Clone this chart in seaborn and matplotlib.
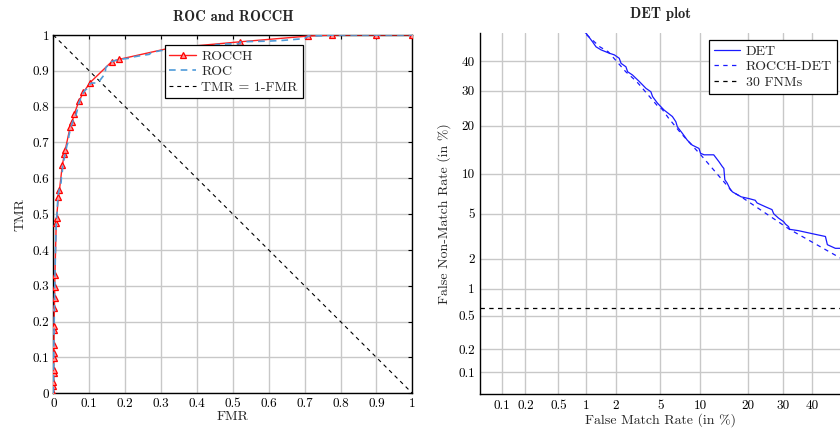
import numpy as np
import pandas as pd
import matplotlib
matplotlib.use("Agg")
import matplotlib.pyplot as plt
import seaborn as sns
from statistics import NormalDist

# ---------------- data ----------------
roc_fmr = [0.0, 0.0002, 0.0004, 0.0006, 0.0008, 0.001, 0.0012, 0.0015, 0.002, 0.0022,
           0.003, 0.0035, 0.004, 0.0045, 0.006, 0.008, 0.009, 0.0101, 0.0118, 0.0128,
           0.0144, 0.0174, 0.0195, 0.0217, 0.0226, 0.0251, 0.0260, 0.0288, 0.0332, 0.0379,
           0.0418, 0.0432, 0.0475, 0.0538, 0.0626, 0.0666, 0.0684, 0.0746, 0.0812, 0.0883,
           0.0985, 0.101, 0.107, 0.124, 0.134, 0.141, 0.144, 0.146, 0.151, 0.158,
           0.163, 0.183, 0.202, 0.219, 0.224, 0.247, 0.267, 0.272, 0.287, 0.303,
           0.309, 0.319, 0.322, 0.352, 0.397, 0.447, 0.454, 0.483, 0.500, 0.520, 0.520,
           0.600, 0.640, 0.700, 0.709, 0.750, 0.777, 1.0]
roc_tmr = [0.0, 0.019, 0.032, 0.056, 0.065, 0.099, 0.112, 0.135, 0.177, 0.188,
           0.239, 0.267, 0.298, 0.330, 0.400, 0.474, 0.488, 0.500, 0.531, 0.549,
           0.560, 0.572, 0.578, 0.590, 0.608, 0.620, 0.637, 0.648, 0.670, 0.692,
           0.703, 0.718, 0.738, 0.758, 0.776, 0.790, 0.803, 0.819, 0.835, 0.846,
           0.853, 0.863, 0.866, 0.866, 0.879, 0.888, 0.891, 0.909, 0.914, 0.923,
           0.926, 0.932, 0.934, 0.936, 0.939, 0.943, 0.946, 0.950, 0.954, 0.957,
           0.959, 0.961, 0.963, 0.964, 0.966, 0.968, 0.973, 0.975, 0.975, 0.976, 0.981,
           0.983, 0.985, 0.990, 0.997, 0.998, 1.0, 1.0]

# ROC convex hull vertices
rocch_fmr = [0.0, 0.0002, 0.0004, 0.0006, 0.0008, 0.001, 0.0012, 0.0015, 0.002, 0.0022,
             0.003, 0.0035, 0.004, 0.0045, 0.008, 0.009, 0.014, 0.017, 0.025, 0.031,
             0.033, 0.047, 0.052, 0.058, 0.072, 0.084, 0.102, 0.163, 0.183, 0.322,
             0.520, 0.709, 0.777, 0.900, 1.0]
rocch_tmr = [0.0, 0.019, 0.032, 0.056, 0.065, 0.099, 0.112, 0.135, 0.177, 0.188,
             0.239, 0.267, 0.298, 0.330, 0.474, 0.488, 0.549, 0.567, 0.637, 0.668,
             0.679, 0.744, 0.756, 0.779, 0.817, 0.840, 0.867, 0.926, 0.932, 0.963,
             0.981, 0.997, 1.0, 1.0, 1.0]

diag_fmr = [0.0, 1.0]
diag_tmr = [1.0, 0.0]

fnm30_rate_pct = 0.62   # 30 false non-matches, in %

roc_ticks = [0, 0.1, 0.2, 0.3, 0.4, 0.5, 0.6, 0.7, 0.8, 0.9, 1]
roc_tick_labels = ["0", "0.1", "0.2", "0.3", "0.4", "0.5", "0.6", "0.7", "0.8", "0.9", "1"]
det_x_ticks = [0.1, 0.2, 0.5, 1, 2, 5, 10, 20, 30, 40]
det_x_labels = ["0.1", "0.2", "0.5", "1", "2", "5", "10", "20", "30", "40"]
det_y_ticks = [0.1, 0.2, 0.5, 1, 2, 5, 10, 20, 30, 40]
det_y_labels = ["0.1", "0.2", "0.5", "1", "2", "5", "10", "20", "30", "40"]

# ---------------- style ----------------
sns.set_style("white")
plt.rcParams["font.family"] = ["cmr10", "DejaVu Serif"]
plt.rcParams["axes.formatter.use_mathtext"] = True
plt.rcParams["axes.unicode_minus"] = False

GRID = "#c8c8c8"
TICK_FS = 9.5
LABEL_FS = 10
LEG_FS = 10
TITLE_FS = 10.5

fig = plt.figure(figsize=(8.4, 4.29), dpi=100)
ax1 = fig.add_axes([0.0635, 0.0832, 0.4274, 0.8352])
ax2 = fig.add_axes([0.5718, 0.0809, 0.4282, 0.8415])

# ---------------- ROC panel ----------------
roc_df = pd.DataFrame({"FMR": roc_fmr, "TMR": roc_tmr})
hull_df = pd.DataFrame({"FMR": rocch_fmr, "TMR": rocch_tmr})
diag_df = pd.DataFrame({"FMR": diag_fmr, "TMR": diag_tmr})

sns.lineplot(data=diag_df, x="FMR", y="TMR", ax=ax1, sort=False, estimator=None,
             color="black", lw=0.8, linestyle=(0, (3.5, 3.5)), label="TMR = 1-FMR", zorder=2)
sns.lineplot(data=hull_df, x="FMR", y="TMR", ax=ax1, sort=False, estimator=None,
             color="#ff2020", lw=1.0, marker="^", markersize=5, mfc="#ff9a9a",
             mec="#ff0000", mew=0.9, label="ROCCH", zorder=3)
sns.lineplot(data=roc_df, x="FMR", y="TMR", ax=ax1, sort=False, estimator=None,
             color="#4f9bd9", lw=1.2, linestyle=(0, (4, 3)), label="ROC", zorder=4)

ax1.set_xlim(0, 1)
ax1.set_ylim(0, 1)
ax1.set_xticks(roc_ticks, roc_tick_labels)
ax1.set_yticks(roc_ticks, roc_tick_labels)
ax1.grid(True, color=GRID, lw=1.0)
ax1.set_axisbelow(True)
for s in ax1.spines.values():
    s.set_color("black")
    s.set_linewidth(1.0)
ax1.tick_params(direction="in", length=3, width=0.8, labelsize=TICK_FS, pad=3,
                top=True, right=True, colors="black")
ax1.set_xlabel("FMR", fontsize=LABEL_FS, labelpad=1)
ax1.set_ylabel("TMR", fontsize=LABEL_FS, labelpad=4)
ax1.set_title("ROC and ROCCH", fontsize=TITLE_FS, family=["cmb10", "DejaVu Serif"], pad=10)

h, l = ax1.get_legend_handles_labels()
order = [l.index("ROCCH"), l.index("ROC"), l.index("TMR = 1-FMR")]
leg1 = ax1.legend([h[i] for i in order], [l[i] for i in order],
                  loc="upper left", bbox_to_anchor=(0.31, 0.972), fontsize=LEG_FS,
                  frameon=True, fancybox=False, framealpha=1, edgecolor="black",
                  borderpad=0.35, labelspacing=0.2, handlelength=1.9, handletextpad=0.4,
                  borderaxespad=0)
leg1.get_frame().set_linewidth(0.9)

# ---------------- DET panel ----------------
nd = NormalDist()
_ppf = np.vectorize(lambda p: nd.inv_cdf(p), otypes=[float])
_cdf = np.vectorize(lambda z: nd.cdf(z), otypes=[float])


def probit_fwd(v):
    v = np.asarray(v, dtype=float)
    p = np.clip(v / 100.0, 1e-12, 1 - 1e-12)
    return _ppf(p)


def probit_inv(z):
    z = np.asarray(z, dtype=float)
    return _cdf(z) * 100.0


ax2.set_xscale("function", functions=(probit_fwd, probit_inv))
ax2.set_yscale("function", functions=(probit_fwd, probit_inv))

det_df = pd.DataFrame({"FMR": np.array(roc_fmr) * 100, "FNMR": (1 - np.array(roc_tmr)) * 100})
rdet_df = pd.DataFrame({"FMR": np.array(rocch_fmr) * 100, "FNMR": (1 - np.array(rocch_tmr)) * 100})
det_df = det_df[(det_df.FMR > 0.01) & (det_df.FNMR > 0.01)]
rdet_df = rdet_df[(rdet_df.FMR > 0.01) & (rdet_df.FNMR > 0.01)]

sns.lineplot(data=det_df, x="FMR", y="FNMR", ax=ax2, sort=False, estimator=None,
             color="#1a1aff", lw=0.9, label="DET", zorder=4)
sns.lineplot(data=rdet_df, x="FMR", y="FNMR", ax=ax2, sort=False, estimator=None,
             color="#1a1aff", lw=0.9, linestyle=(0, (3.5, 3.5)), label="ROCCH-DET", zorder=3)
ax2.axhline(fnm30_rate_pct, color="black", lw=0.9, linestyle=(0, (3.5, 3.5)),
            label="30 FNMs", zorder=3)

ax2.set_xlim(0.05, 50)
ax2.set_ylim(0.05, 50)
ax2.set_xticks(det_x_ticks, det_x_labels)
ax2.set_yticks(det_y_ticks, det_y_labels)
ax2.minorticks_off()
ax2.grid(True, color=GRID, lw=1.0)
ax2.set_axisbelow(True)
ax2.spines["top"].set_visible(False)
ax2.spines["right"].set_visible(False)
for s in ("left", "bottom"):
    ax2.spines[s].set_color("black")
    ax2.spines[s].set_linewidth(1.0)
ax2.tick_params(direction="in", length=0, labelsize=TICK_FS, pad=4, colors="black")
ax2.set_xlabel("False Match Rate (in %)", fontsize=LABEL_FS, labelpad=1)
ax2.set_ylabel("False Non-Match Rate (in %)", fontsize=LABEL_FS, labelpad=5)
ax2.set_title("DET plot", fontsize=TITLE_FS, family=["cmb10", "DejaVu Serif"], pad=11)

leg2 = ax2.legend(loc="upper left", bbox_to_anchor=(0.635, 0.981), fontsize=LEG_FS,
                  frameon=True, fancybox=False, framealpha=1, edgecolor="black",
                  borderpad=0.35, labelspacing=0.2, handlelength=1.9, handletextpad=0.4,
                  borderaxespad=0)
leg2.get_frame().set_linewidth(0.9)

fig.savefig("out.png", dpi=100)
